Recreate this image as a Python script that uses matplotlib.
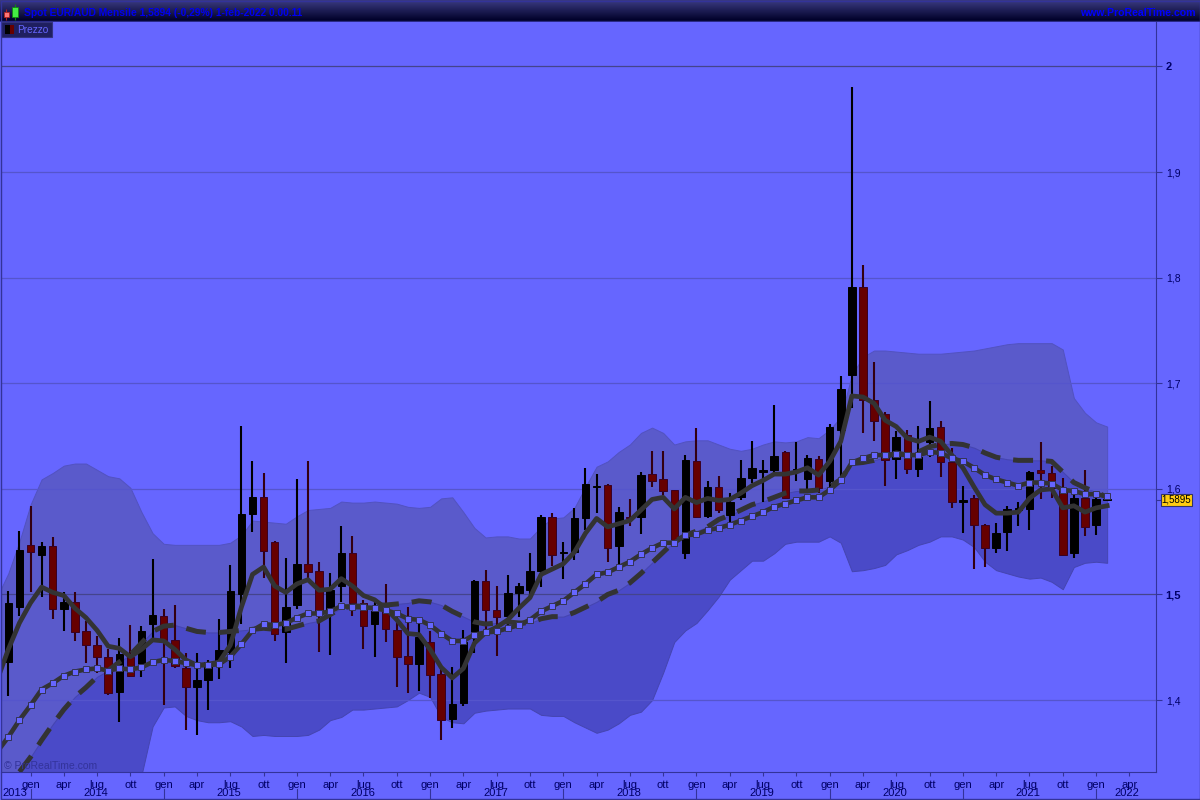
import numpy as np
import matplotlib
matplotlib.use("Agg")
import matplotlib.pyplot as plt
from matplotlib.patches import Rectangle

plt.rcParams["font.family"] = ["Liberation Sans", "DejaVu Sans"]

# monthly candles, nov 2013 - feb 2022 (month 0 = nov 2013)
highs = [1.503, 1.560, 1.584, 1.550, 1.554, 1.502, 1.502, 1.475, 1.461, 1.448,
         1.459, 1.471, 1.470, 1.534, 1.486, 1.490, 1.445, 1.445, 1.438, 1.477,
         1.528, 1.660, 1.626, 1.615, 1.551, 1.535, 1.609, 1.626, 1.531, 1.520,
         1.565, 1.555, 1.495, 1.493, 1.510, 1.479, 1.488, 1.476, 1.465, 1.429,
         1.431, 1.466, 1.514, 1.523, 1.508, 1.518, 1.511, 1.539, 1.575, 1.577,
         1.550, 1.582, 1.620, 1.614, 1.605, 1.583, 1.590, 1.616, 1.636, 1.636,
         1.599, 1.632, 1.658, 1.607, 1.612, 1.596, 1.627, 1.645, 1.627, 1.679,
         1.636, 1.644, 1.632, 1.631, 1.661, 1.707, 1.981, 1.812, 1.720, 1.673,
         1.655, 1.656, 1.660, 1.683, 1.664, 1.639, 1.603, 1.594, 1.567, 1.568,
         1.584, 1.588, 1.617, 1.644, 1.622, 1.610, 1.596, 1.618, 1.591, 1.5905]
lows = [1.404, 1.480, 1.502, 1.498, 1.477, 1.465, 1.456, 1.435, 1.426, 1.405,
        1.379, 1.422, 1.422, 1.459, 1.395, 1.430, 1.372, 1.367, 1.391, 1.420,
        1.430, 1.472, 1.559, 1.516, 1.456, 1.435, 1.486, 1.516, 1.446, 1.443,
        1.493, 1.480, 1.448, 1.441, 1.455, 1.412, 1.407, 1.409, 1.402, 1.362,
        1.374, 1.394, 1.445, 1.464, 1.442, 1.466, 1.479, 1.498, 1.507, 1.527,
        1.515, 1.533, 1.561, 1.577, 1.531, 1.528, 1.565, 1.557, 1.602, 1.594,
        1.550, 1.534, 1.572, 1.572, 1.577, 1.569, 1.589, 1.606, 1.588, 1.613,
        1.590, 1.607, 1.597, 1.596, 1.601, 1.611, 1.677, 1.653, 1.645, 1.603,
        1.609, 1.614, 1.611, 1.630, 1.611, 1.582, 1.558, 1.524, 1.526, 1.539,
        1.541, 1.565, 1.561, 1.590, 1.591, 1.536, 1.535, 1.555, 1.556, 1.5885]
body_tops = [1.492, 1.542, 1.547, 1.546, 1.546, 1.493, 1.493, 1.465, 1.452, 1.441,
             1.444, 1.441, 1.465, 1.481, 1.480, 1.457, 1.430, 1.419, 1.436, 1.447,
             1.503, 1.576, 1.592, 1.592, 1.550, 1.488, 1.529, 1.529, 1.522, 1.504,
             1.539, 1.539, 1.492, 1.484, 1.484, 1.466, 1.442, 1.460, 1.455, 1.425,
             1.396, 1.455, 1.513, 1.513, 1.485, 1.501, 1.508, 1.522, 1.573, 1.573,
             1.540, 1.572, 1.605, 1.603, 1.604, 1.578, 1.573, 1.613, 1.614, 1.609,
             1.599, 1.627, 1.626, 1.602, 1.602, 1.588, 1.610, 1.620, 1.618, 1.631,
             1.635, 1.619, 1.629, 1.628, 1.659, 1.695, 1.791, 1.791, 1.684, 1.671,
             1.649, 1.651, 1.630, 1.658, 1.659, 1.625, 1.589, 1.591, 1.566, 1.558,
             1.581, 1.582, 1.616, 1.618, 1.615, 1.599, 1.591, 1.591, 1.590, 1.5900]
body_bottoms = [1.436, 1.488, 1.540, 1.537, 1.486, 1.486, 1.464, 1.452, 1.441, 1.407,
                1.408, 1.423, 1.434, 1.472, 1.457, 1.432, 1.412, 1.412, 1.419, 1.435,
                1.446, 1.500, 1.576, 1.541, 1.463, 1.464, 1.490, 1.521, 1.484, 1.485,
                1.508, 1.492, 1.470, 1.472, 1.467, 1.441, 1.434, 1.434, 1.424, 1.381,
                1.382, 1.397, 1.464, 1.485, 1.479, 1.480, 1.501, 1.504, 1.522, 1.537,
                1.539, 1.540, 1.572, 1.602, 1.544, 1.546, 1.572, 1.573, 1.607, 1.598,
                1.552, 1.539, 1.573, 1.574, 1.580, 1.575, 1.592, 1.610, 1.616, 1.618,
                1.591, 1.617, 1.609, 1.601, 1.607, 1.656, 1.708, 1.684, 1.664, 1.627,
                1.628, 1.619, 1.619, 1.644, 1.625, 1.588, 1.588, 1.566, 1.544, 1.544,
                1.559, 1.580, 1.581, 1.615, 1.601, 1.537, 1.539, 1.564, 1.566, 1.5890]
is_down = [0, 0, 1, 0, 1, 0, 1, 1, 1, 1,
           0, 1, 0, 0, 1, 1, 1, 0, 0, 0,
           0, 0, 0, 1, 1, 0, 0, 1, 1, 0,
           0, 1, 1, 0, 1, 1, 1, 0, 1, 1,
           0, 0, 0, 1, 1, 0, 0, 0, 0, 1,
           0, 0, 0, 0, 1, 0, 1, 0, 1, 1,
           1, 0, 1, 0, 1, 0, 0, 0, 0, 0,
           1, 0, 0, 1, 0, 0, 0, 1, 1, 1,
           0, 1, 0, 0, 1, 1, 0, 1, 1, 0,
           0, 0, 0, 1, 1, 1, 0, 1, 0, 0]

# overlays, first value is oct 2013 (month -1)
fast_ma = [1.419, 1.448, 1.473, 1.492, 1.507, 1.502, 1.499, 1.487, 1.478, 1.466, 1.451,
           1.449, 1.441, 1.448, 1.457, 1.456, 1.448, 1.438, 1.433, 1.434, 1.436,
           1.452, 1.488, 1.519, 1.526, 1.508, 1.502, 1.510, 1.514, 1.504, 1.505,
           1.515, 1.508, 1.499, 1.495, 1.487, 1.476, 1.463, 1.462, 1.448, 1.431,
           1.421, 1.430, 1.454, 1.464, 1.469, 1.476, 1.487, 1.497, 1.519, 1.524,
           1.529, 1.540, 1.558, 1.572, 1.564, 1.567, 1.570, 1.580, 1.590, 1.592,
           1.581, 1.592, 1.587, 1.591, 1.589, 1.590, 1.596, 1.603, 1.608, 1.614,
           1.614, 1.616, 1.620, 1.613, 1.626, 1.645, 1.688, 1.687, 1.681, 1.665,
           1.659, 1.648, 1.645, 1.649, 1.645, 1.632, 1.620, 1.602, 1.585, 1.577,
           1.577, 1.578, 1.591, 1.599, 1.600, 1.582, 1.584, 1.578, 1.582, 1.584]
mid_ma = [1.351, 1.365, 1.381, 1.395, 1.410, 1.416, 1.423, 1.427, 1.429, 1.430, 1.428,
          1.430, 1.429, 1.431, 1.436, 1.438, 1.437, 1.435, 1.433, 1.433, 1.434,
          1.441, 1.453, 1.466, 1.472, 1.471, 1.473, 1.478, 1.482, 1.482, 1.484,
          1.489, 1.488, 1.488, 1.487, 1.485, 1.482, 1.477, 1.476, 1.471, 1.463,
          1.456, 1.456, 1.462, 1.464, 1.465, 1.468, 1.471, 1.476, 1.484, 1.489,
          1.494, 1.502, 1.510, 1.519, 1.521, 1.526, 1.531, 1.538, 1.544, 1.549,
          1.549, 1.556, 1.557, 1.561, 1.563, 1.566, 1.570, 1.574, 1.578, 1.583,
          1.586, 1.589, 1.592, 1.592, 1.599, 1.608, 1.625, 1.629, 1.632, 1.632,
          1.633, 1.632, 1.632, 1.635, 1.634, 1.629, 1.626, 1.620, 1.613, 1.609,
          1.606, 1.603, 1.606, 1.606, 1.605, 1.599, 1.598, 1.595, 1.595, 1.593]
slow_ma = [1.305, 1.320, 1.332, 1.346, 1.362, 1.377, 1.391, 1.403, 1.412, 1.422, 1.428,
           1.436, 1.443, 1.454, 1.465, 1.470, 1.471, 1.468, 1.465, 1.464, 1.464,
           1.465, 1.466, 1.467, 1.468, 1.467, 1.467, 1.470, 1.473, 1.475, 1.481,
           1.487, 1.489, 1.489, 1.490, 1.490, 1.491, 1.492, 1.494, 1.493, 1.490,
           1.484, 1.479, 1.474, 1.472, 1.473, 1.474, 1.473, 1.473, 1.477, 1.479,
           1.479, 1.483, 1.488, 1.493, 1.500, 1.504, 1.511, 1.520, 1.530, 1.540,
           1.550, 1.556, 1.560, 1.564, 1.571, 1.575, 1.580, 1.585, 1.588, 1.592,
           1.596, 1.598, 1.598, 1.599, 1.602, 1.609, 1.624, 1.625, 1.627, 1.630,
           1.634, 1.632, 1.635, 1.640, 1.642, 1.643, 1.642, 1.639, 1.634, 1.630,
           1.628, 1.627, 1.627, 1.627, 1.626, 1.616, 1.606, 1.601, 1.597, 1.592]
upper_band = [1.498, 1.520, 1.550, 1.585, 1.609, 1.615, 1.622, 1.624, 1.624, 1.618, 1.612,
              1.610, 1.601, 1.578, 1.558, 1.548, 1.547, 1.547, 1.547, 1.547, 1.547,
              1.549, 1.556, 1.570, 1.569, 1.568, 1.567, 1.574, 1.580, 1.581, 1.582,
              1.588, 1.587, 1.587, 1.588, 1.587, 1.586, 1.583, 1.582, 1.583, 1.591,
              1.592, 1.578, 1.563, 1.554, 1.555, 1.555, 1.553, 1.553, 1.564, 1.572,
              1.573, 1.582, 1.602, 1.621, 1.626, 1.635, 1.642, 1.653, 1.658, 1.653,
              1.642, 1.645, 1.646, 1.646, 1.642, 1.638, 1.636, 1.638, 1.642, 1.645,
              1.644, 1.645, 1.649, 1.648, 1.656, 1.668, 1.708, 1.725, 1.731, 1.731,
              1.730, 1.729, 1.728, 1.728, 1.728, 1.729, 1.730, 1.731, 1.733, 1.735,
              1.737, 1.738, 1.738, 1.738, 1.738, 1.732, 1.686, 1.672, 1.663, 1.659]
lower_band = [1.220, 1.211, 1.154, 1.126, 1.116, 1.126, 1.154, 1.173, 1.192, 1.211, 1.230,
              1.249, 1.282, 1.329, 1.375, 1.393, 1.394, 1.385, 1.381, 1.379, 1.379,
              1.380, 1.375, 1.366, 1.367, 1.366, 1.366, 1.366, 1.367, 1.372, 1.381,
              1.384, 1.391, 1.391, 1.392, 1.393, 1.394, 1.400, 1.407, 1.403, 1.384,
              1.379, 1.378, 1.388, 1.390, 1.391, 1.392, 1.392, 1.392, 1.386, 1.385,
              1.385, 1.379, 1.374, 1.369, 1.372, 1.378, 1.386, 1.389, 1.400, 1.426,
              1.455, 1.466, 1.473, 1.485, 1.498, 1.514, 1.523, 1.532, 1.532, 1.539,
              1.548, 1.550, 1.550, 1.550, 1.555, 1.549, 1.522, 1.523, 1.525, 1.528,
              1.538, 1.542, 1.547, 1.550, 1.555, 1.555, 1.552, 1.545, 1.531, 1.523,
              1.520, 1.517, 1.515, 1.516, 1.512, 1.505, 1.526, 1.530, 1.531, 1.530]

last_price = 1.5895
y_ticks = [1.4, 1.5, 1.6, 1.7, 1.8, 1.9, 2.0]
y_labels = ["1,4", "1,5", "1,6", "1,7", "1,8", "1,9", "2"]
month_names = ["gen", "apr", "lug", "ott"]
years = list(range(2014, 2023))

BG = "#6666ff"
AXIS = "#333399"
DARK = "#33337f"
TEXT = "#000066"

fig = plt.figure(figsize=(12, 8), dpi=100, facecolor=BG)
# 1 month = 11.1 px, month 0 sits at x = 8.3 px
ax = fig.add_axes([1 / 1200, 28 / 800, 1155 / 1200, 750 / 800], facecolor=BG)
ax.set_xlim(-0.658, 103.4)
ax.set_ylim(1.3319, 2.0421)

m = np.arange(len(highs))
m_lines = np.arange(-1, len(highs))

ax.fill_between(m_lines, slow_ma, upper_band, color="#5a5acb", lw=0.7, ec="#5252c0", zorder=1)
ax.fill_between(m_lines, lower_band, slow_ma, color="#4a4ac8", lw=0.7, ec="#4545b0", zorder=1)

# grid, the round levels are darker
for v in y_ticks:
    strong = v in (1.5, 2.0)
    ax.axhline(v, color="#44448c" if strong else "#5555cc", lw=0.9, zorder=2)

# candles
for i in m:
    wick = "#330011" if is_down[i] else "black"
    face = "#660000" if is_down[i] else "black"
    edge = "#3a0022" if is_down[i] else "black"
    ax.vlines(i, lows[i], highs[i], color=wick, lw=1.5, zorder=3)
    h = max(body_tops[i] - body_bottoms[i], 0.0008)
    ax.bar(i, h, bottom=body_bottoms[i], width=0.68, color=face, edgecolor=edge, lw=0.7, zorder=4)

# moving averages
ax.plot(m_lines, slow_ma, color="#333333", lw=3.6, dashes=(4.0, 2.6), dash_capstyle="butt", zorder=5)
ax.plot(m_lines, mid_ma, color="#333333", lw=3.3, zorder=6)
ax.plot(m_lines, mid_ma, ls="none", marker="s", ms=4.0, mfc=BG, mec="#333355", mew=0.7, zorder=7)
ax.plot(m_lines, fast_ma, color="#333333", lw=3.4, solid_joinstyle="round", zorder=6)

# axes
for s in ("top", "left"):
    ax.spines[s].set_visible(False)
ax.spines["right"].set_color(AXIS)
ax.spines["bottom"].set_color(AXIS)
ax.yaxis.tick_right()
ax.set_yticks(y_ticks)
ax.set_yticklabels(y_labels, fontsize=7.5, color=TEXT)
for lab, txt in zip(ax.get_yticklabels(), y_labels):
    if txt in ("2", "1,5"):
        lab.set_fontweight("bold")
        lab.set_fontsize(8)
ax.tick_params(axis="y", length=4, width=0.8, color=AXIS, pad=3)

tick_m = [2 + 3 * k for k in range(34)]
tick_l = [month_names[k % 4] for k in range(34)]
ax.set_xticks(tick_m)
ax.set_xticklabels(tick_l, fontsize=8, color=TEXT)
ax.tick_params(axis="x", length=3, width=0.8, color=AXIS, pad=3)

# year row under the months
trans = ax.get_xaxis_transform()
ax.text(0.6, -21 / 750, "2013", transform=trans, ha="center", va="center", fontsize=8, color=TEXT, clip_on=False)
for k, yr in enumerate(years):
    start = 2 + 12 * k
    pos = start + 2.8 if yr == 2022 else start + 5.9
    ax.text(pos, -21 / 750, str(yr), transform=trans, ha="center", va="center", fontsize=8, color=TEXT, clip_on=False)
    ax.plot([start, start], [-17 / 750, -26 / 750], transform=trans, color=AXIS, lw=0.8, clip_on=False)

# last price flag
ax.annotate("1,5895", xy=(1, last_price), xycoords=("axes fraction", "data"), xytext=(20.5, 0),
            textcoords="offset pixels", ha="center", va="center", fontsize=7, color="black",
            bbox=dict(boxstyle="square,pad=0.12", fc="#ffcc11", ec="#333366", lw=0.8), annotation_clip=False)
ax.plot([1, 1 + 4 / 1155], [last_price, last_price], transform=ax.get_yaxis_transform(), color=AXIS,
        lw=0.8, clip_on=False)

ax.text(3 / 1155, 6 / 750, "© ProRealTime.com", transform=ax.transAxes, fontsize=7.5, color="#33339a",
        ha="left", va="center", zorder=8)

# title bar
bar = fig.add_axes([0, 778 / 800, 1, 22 / 800])
grad = np.linspace(0, 1, 22)[:, None]
c1 = np.array([0x3a, 0x3a, 0x80]) / 255
c2 = np.array([0x00, 0x00, 0x28]) / 255
img = (c1[None, None, :] * (1 - grad[..., None]) + c2[None, None, :] * grad[..., None])
bar.imshow(img, aspect="auto", extent=(0, 1200, 21, 0))
bar.set_xlim(0, 1200)
bar.set_ylim(22, 0)
bar.axis("off")
bar.add_patch(Rectangle((0, 21), 1200, 1, color="#2a2a88"))
bar.text(24, 12.5, "Spot EUR/AUD Mensile 1,5894 (-0,29%) 1-feb-2022 0.00.11", fontsize=7.4,
         color="#0000ee", fontweight="bold", va="center", ha="left")
bar.text(1196, 12.5, "www.ProRealTime.com", fontsize=7.6, color="#0000ff", fontweight="bold",
         va="center", ha="right")
bar.vlines(6, 9, 20, color="#aa2222", lw=0.8)
bar.add_patch(Rectangle((3.5, 11.5), 5.5, 5.5, fc="#ff7777", ec="#aa2222", lw=0.6, zorder=3))
bar.vlines(14.5, 4, 20, color="#118811", lw=0.8)
bar.add_patch(Rectangle((11.5, 7), 6, 9.5, fc="#44ee44", ec="#118811", lw=0.6, zorder=3))

# legend tab and outer frame, drawn in pixel coordinates
top = fig.add_axes([0, 0, 1, 1], facecolor="none")
top.set_xlim(0, 1200)
top.set_ylim(800, 0)
top.axis("off")
top.add_patch(Rectangle((1, 22), 51, 15, fc="#1f1f60", ec=DARK, lw=0.8))
top.add_patch(Rectangle((5, 25), 5, 9, fc="black", ec="none"))
top.add_patch(Rectangle((10, 25), 4, 9, fc="#660000", ec="none"))
top.text(17.5, 30, "Prezzo", fontsize=7.3, color=BG, va="center", ha="left")
top.add_patch(Rectangle((0.5, 0.5), 1199, 798.5, fc="none", ec=AXIS, lw=1.0))

fig.savefig("out.png", dpi=100, facecolor=BG)
